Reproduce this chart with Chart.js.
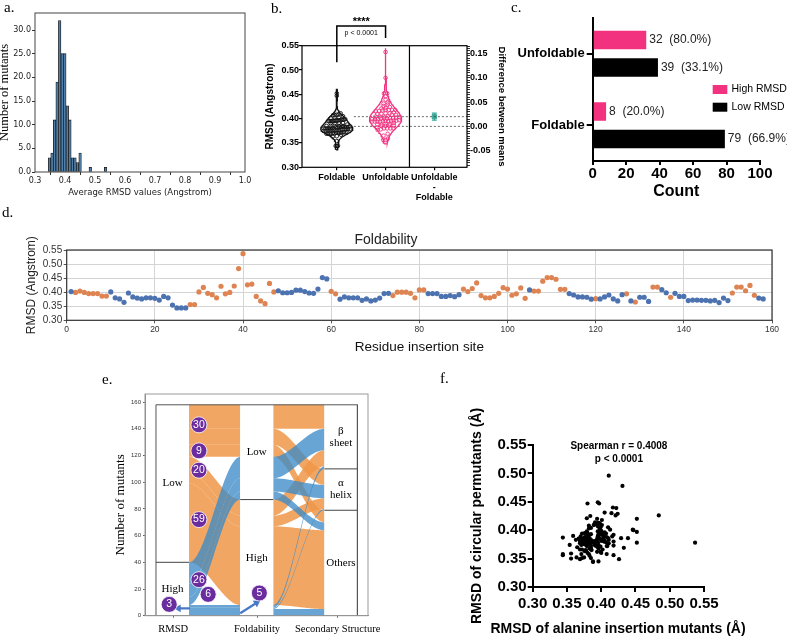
<!DOCTYPE html>
<html>
<head>
<meta charset="utf-8">
<title>RMSD of alanine insertion mutants</title>
<script src="https://cdn.jsdelivr.net/npm/chart.js@4.4.1/dist/chart.umd.min.js"></script>
<style>
  html, body { margin: 0; padding: 0; background: #fff; }
  #figure { position: relative; width: 787px; height: 637px; overflow: hidden; background: #fff; }
  #figure canvas { position: absolute; }
  .panel-label { position: absolute; font-family: "Liberation Serif", "Times New Roman", serif; font-size: 15px; line-height: 15px; color: #000; }
</style>
</head>
<body>
<div id="figure">
  <canvas id="histChart" width="260" height="215" style="left:0px;top:0px"></canvas>
  <canvas id="violinChart" width="280" height="250" style="left:240px;top:0px"></canvas>
  <canvas id="countChart" width="277" height="210" style="left:510px;top:0px"></canvas>
  <canvas id="siteChart" width="787" height="136" style="left:0px;top:228px"></canvas>
  <canvas id="flowChart" width="310" height="252" style="left:100px;top:385px"></canvas>
  <canvas id="corrChart" width="347" height="242" style="left:440px;top:395px"></canvas>
  <div class="panel-label" style="left:4px;top:0px">a.</div>
  <div class="panel-label" style="left:271px;top:1px">b.</div>
  <div class="panel-label" style="left:511px;top:0px">c.</div>
  <div class="panel-label" style="left:2px;top:205px">d.</div>
  <div class="panel-label" style="left:102px;top:372px">e.</div>
  <div class="panel-label" style="left:440px;top:371px">f.</div>
</div>
<script>
// RMSD of each alanine insertion mutant, insertion sites 1..158 (panel d)
const siteRmsd = [
  0.402, 0.399, 0.404, 0.399, 0.395, 0.395, 0.395, 0.386, 0.386, 0.401,
  0.380, 0.376, 0.364, 0.397, 0.383, 0.379, 0.376, 0.380, 0.380, 0.378,
  0.372, 0.385, 0.380, 0.354, 0.344, 0.344, 0.344, 0.356, 0.356, 0.401,
  0.417, 0.396, 0.391, 0.380, 0.421, 0.394, 0.399, 0.422, 0.484, 0.537,
  0.426, 0.429, 0.385, 0.369, 0.359, 0.431, 0.401, 0.405, 0.398, 0.398,
  0.399, 0.407, 0.407, 0.402, 0.397, 0.396, 0.411, 0.452, 0.447, 0.403,
  0.394, 0.375, 0.383, 0.380, 0.380, 0.380, 0.371, 0.376, 0.369, 0.372,
  0.379, 0.395, 0.396, 0.388, 0.400, 0.400, 0.400, 0.396, 0.380, 0.408,
  0.408, 0.395, 0.395, 0.395, 0.385, 0.385, 0.388, 0.384, 0.391, 0.411,
  0.402, 0.413, 0.433, 0.388, 0.380, 0.380, 0.385, 0.396, 0.416, 0.411,
  0.389, 0.394, 0.415, 0.378, 0.408, 0.404, 0.404, 0.439, 0.452, 0.452,
  0.446, 0.410, 0.410, 0.395, 0.390, 0.383, 0.383, 0.382, 0.375, 0.377,
  0.376, 0.383, 0.390, 0.376, 0.369, 0.391, 0.394, 0.369, 0.365, 0.382,
  0.382, 0.367, 0.418, 0.418, 0.409, 0.398, 0.382, 0.396, 0.385, 0.385,
  0.370, 0.372, 0.372, 0.371, 0.371, 0.369, 0.371, 0.363, 0.379, 0.370,
  0.397, 0.418, 0.418, 0.405, 0.424, 0.389, 0.379, 0.376
];

// sites drawn orange (unfoldable) in panel d
const unfoldableSites = [
  2, 3, 4, 5, 6, 7, 8, 9, 28, 29, 30, 31, 32, 33, 34, 35, 36, 37, 38, 39, 40,
  41, 42, 43, 44, 45, 46, 47, 60, 61, 74, 75, 76, 77, 78, 79, 80, 81,
  90, 91, 92, 93, 94, 95, 96, 97, 98, 99, 100, 101, 102, 103, 104,
  106, 107, 108, 109, 110, 111, 112, 113, 120, 127, 129, 133, 134, 137,
  151, 152, 153, 154, 155, 156
];

// RMSD of the circular permutant at the same site (panel f, y values)
const permutantRmsd = [
  0.392, 0.405, 0.383, 0.371, 0.398, 0.412, 0.387, 0.378, 0.365, 0.418,
  0.384, 0.376, 0.352, 0.447, 0.381, 0.372, 0.388, 0.395, 0.360, 0.383,
  0.351, 0.404, 0.380, 0.374, 0.387, 0.358, 0.356, 0.350, 0.359, 0.409,
  0.440, 0.390, 0.375, 0.447, 0.426, 0.420, 0.396, 0.439, 0.426, 0.378,
  0.349, 0.386, 0.369, 0.366, 0.390, 0.478, 0.384, 0.431, 0.412, 0.402,
  0.362, 0.394, 0.379, 0.366, 0.385, 0.345, 0.496, 0.420, 0.400, 0.388,
  0.371, 0.352, 0.368, 0.390, 0.377, 0.382, 0.379, 0.363, 0.381, 0.378,
  0.421, 0.379, 0.393, 0.380, 0.360, 0.399, 0.381, 0.413, 0.386, 0.388,
  0.372, 0.449, 0.407, 0.386, 0.383, 0.373, 0.344, 0.425, 0.373, 0.383,
  0.395, 0.401, 0.369, 0.345, 0.391, 0.375, 0.366, 0.368, 0.389, 0.377,
  0.409, 0.384, 0.430, 0.364, 0.358, 0.392, 0.380, 0.386, 0.397, 0.378,
  0.401, 0.405, 0.386, 0.389, 0.410, 0.379, 0.355, 0.392, 0.380, 0.365,
  0.375, 0.386, 0.381, 0.395, 0.383, 0.414, 0.362, 0.349, 0.370, 0.408,
  0.358, 0.385, 0.380, 0.356, 0.372, 0.392, 0.403, 0.374, 0.393, 0.351,
  0.381, 0.394, 0.366, 0.385, 0.358, 0.377, 0.374, 0.383, 0.387, 0.389,
  0.405, 0.373, 0.392, 0.396, 0.429, 0.379, 0.398, 0.384
];

// panel a histogram
const histBinCenters = [0.3483, 0.3568, 0.3653, 0.3738, 0.3823, 0.3908, 0.3993, 0.4078,
                        0.4163, 0.4248, 0.4333, 0.4418, 0.4503, 0.4843, 0.5353];
const histCounts = [3, 4, 11, 19, 32, 25, 25, 14, 11, 3, 3, 2, 4, 1, 1];

// panel b groups
const violinGroups = ['Foldable', 'Unfoldable', ['Unfoldable', '-', 'Foldable']];
const significanceText = ['****', 'p < 0.0001'];

// panel c
const foldCategories = ['Unfoldable', 'Foldable'];
const highRmsdCounts = [32, 8];
const lowRmsdCounts = [39, 79];

// panel e alluvial paths
const rmsdLevels = ['Low', 'High'];
const foldLevels = ['Low', 'High'];
const structureLevels = ['β sheet', 'α helix', 'Others'];
const pathRmsd = ['Low', 'Low', 'Low', 'High', 'High', 'High', 'Low', 'Low', 'Low', 'High', 'High', 'High'];
const pathFold = ['Low', 'Low', 'Low', 'Low', 'Low', 'Low', 'High', 'High', 'High', 'High', 'High', 'High'];
const pathStructure = ['β sheet', 'α helix', 'Others', 'β sheet', 'α helix', 'Others',
                       'β sheet', 'α helix', 'Others', 'β sheet', 'α helix', 'Others'];
const pathCounts = [18, 12, 9, 16, 10, 6, 12, 8, 59, 2, 1, 5];
const alluvialAxes = ['RMSD', 'Foldability', 'Secondary Structure'];

// panel f
const spearmanText = ['Spearman r = 0.4008', 'p < 0.0001'];

// ---------------------------------------------------------------
const SANS = '"Liberation Sans", Arial, sans-serif';
const DEJAVU = '"DejaVu Sans", sans-serif';
const SERIF = '"Liberation Serif", "Times New Roman", serif';
const PINK = '#f2317f';
const TEAL = '#3aa997';

Chart.defaults.font.family = SANS;
Chart.defaults.color = '#000';
Chart.defaults.animation = false;
Chart.defaults.responsive = false;
Chart.defaults.devicePixelRatio = 1;
Chart.defaults.events = [];
Chart.defaults.plugins.legend.display = false;
Chart.defaults.plugins.tooltip.enabled = false;

const fixW = w => scale => { scale.width = w; };
const fixH = h => scale => { scale.height = h; };
const tickMarks = (len, color, width) => ({ display: true, drawOnChartArea: false, drawTicks: true, tickLength: len, color: color, lineWidth: width || 1 });

function boxFrame(color, width) {
  return {
    id: 'boxFrame',
    afterDraw(chart) {
      const a = chart.chartArea, ctx = chart.ctx;
      ctx.save();
      ctx.strokeStyle = color;
      ctx.lineWidth = width;
      ctx.strokeRect(a.left, a.top, a.right - a.left, a.bottom - a.top);
      ctx.restore();
    }
  };
}

function textLayer(items) {
  return {
    id: 'textLayer',
    afterDraw(chart) {
      const ctx = chart.ctx;
      ctx.save();
      items.forEach(it => {
        const xs = chart.scales[it.xAxis || 'x'], ys = chart.scales[it.yAxis || 'y'];
        const px = xs.getPixelForValue(it.x), py = ys.getPixelForValue(it.y);
        const lines = [].concat(it.text);
        ctx.font = it.font;
        ctx.fillStyle = it.color || '#000';
        ctx.textAlign = 'center';
        ctx.textBaseline = 'middle';
        lines.forEach((t, k) => ctx.fillText(t, px, py + (k - (lines.length - 1) / 2) * (it.lineHeight || 12)));
      });
      ctx.restore();
    }
  };
}

const lineDs = (data, color, width, extra) => Object.assign({
  data, showLine: true, borderColor: color, borderWidth: width, pointRadius: 0, fill: false, tension: 0
}, extra || {});

// ---------- a. histogram ----------
new Chart(document.getElementById('histChart'), {
  type: 'bar',
  data: {
    datasets: [{
      data: histBinCenters.map((x, i) => ({ x, y: histCounts[i] })),
      backgroundColor: '#4f80ac', borderColor: '#1b1b1b', borderWidth: 0.8,
      borderSkipped: false, barPercentage: 1, categoryPercentage: 1
    }]
  },
  options: {
    layout: { padding: { top: 13, right: 15, left: 0, bottom: 0 } },
    scales: {
      x: {
        type: 'linear', offset: false, min: 0.3, max: 1.0, afterFit: fixH(43),
        ticks: { stepSize: 0.1, callback: v => v.toFixed(1), font: { family: DEJAVU, size: 8 }, color: '#222', padding: 1, maxRotation: 0 },
        grid: tickMarks(3, '#333'), border: { display: false },
        title: { display: true, text: 'Average RMSD values (Angstrom)', color: '#222',
                 font: { family: DEJAVU, size: 8.5 }, padding: { top: 0, bottom: 16.9 } }
      },
      y: {
        min: 0, max: 33.6, afterFit: fixW(35),
        ticks: { stepSize: 5, includeBounds: false, autoSkip: false, callback: v => v.toFixed(1), font: { family: DEJAVU, size: 8 }, color: '#222', padding: 1 },
        grid: tickMarks(3, '#333'), border: { display: false },
        title: { display: true, text: 'Number of mutants', font: { family: SERIF, size: 12.5, lineHeight: 0.8 }, padding: { top: 0, bottom: 0 } }
      }
    }
  },
  plugins: [boxFrame('#444', 1)]
});

// ---------- b. violin plot ----------
const unfoldSet = new Set(unfoldableSites);
const foldableRmsd = siteRmsd.filter((v, i) => !unfoldSet.has(i + 1));
const unfoldableRmsd = siteRmsd.filter((v, i) => unfoldSet.has(i + 1));

function stats(vals) {
  const n = vals.length;
  const mean = vals.reduce((a, b) => a + b, 0) / n;
  const variance = vals.reduce((a, b) => a + (b - mean) ** 2, 0) / (n - 1);
  return { n, mean, variance, sd: Math.sqrt(variance) };
}

function violinShape(vals, center, maxHalf) {
  const st = stats(vals);
  const bw = 1.06 * st.sd * Math.pow(st.n, -0.2);
  const density = y => vals.reduce((s, v) => s + Math.exp(-0.5 * ((y - v) / bw) ** 2), 0);
  const lo = Math.min(...vals) - 0.008, hi = Math.max(...vals) + 0.008;
  const ys = [];
  for (let k = 0; k <= 90; k++) ys.push(lo + (hi - lo) * k / 90);
  const dmax = Math.max(...ys.map(density));
  const half = y => density(y) / dmax * maxHalf;
  const left = ys.map(y => ({ x: center - half(y), y }));
  const right = ys.slice().reverse().map(y => ({ x: center + half(y), y }));
  const outline = left.concat(right);
  outline.push(left[0]);
  return { outline, half };
}

// spread points sideways inside the violin
function swarm(vals, center, half) {
  const sorted = vals.slice().sort((a, b) => a - b);
  const pts = [];
  let i = 0;
  while (i < sorted.length) {
    let j = i;
    while (j < sorted.length && sorted[j] - sorted[i] < 0.0045) j++;
    const n = j - i;
    const w = half((sorted[i] + sorted[j - 1]) / 2) * 0.85;
    const step = n > 1 ? Math.min(2 * w / (n - 1), 0.085) : 0;
    for (let k = 0; k < n; k++) pts.push({ x: center + (k - (n - 1) / 2) * step, y: sorted[i + k] });
    i = j;
  }
  return pts;
}

const fStats = stats(foldableRmsd), uStats = stats(unfoldableRmsd);
const meanDiff = uStats.mean - fStats.mean;
const ciHalf = 1.96 * Math.sqrt(fStats.variance / fStats.n + uStats.variance / uStats.n);
const vFold = violinShape(foldableRmsd, 1, 0.33);
const vUnfold = violinShape(unfoldableRmsd, 2, 0.33);

new Chart(document.getElementById('violinChart'), {
  type: 'scatter',
  data: {
    datasets: [
      lineDs(vFold.outline, '#111', 1.3),
      { data: swarm(foldableRmsd, 1, vFold.half), pointRadius: 1.8, borderColor: '#111', borderWidth: 0.9, backgroundColor: 'rgba(0,0,0,0)' },
      lineDs(vUnfold.outline, PINK, 1.3),
      { data: swarm(unfoldableRmsd, 2, vUnfold.half), pointRadius: 1.8, borderColor: PINK, borderWidth: 0.9, backgroundColor: 'rgba(0,0,0,0)' },
      lineDs([{ x: 1.35, y: uStats.mean }, { x: 3.67, y: uStats.mean }], '#444', 0.8, { borderDash: [2, 2] }),
      lineDs([{ x: 1.35, y: fStats.mean }, { x: 3.67, y: fStats.mean }], '#444', 0.8, { borderDash: [2, 2] }),
      lineDs([{ x: 2.49, y: 0.30 }, { x: 2.49, y: 0.55 }], '#000', 1.2),
      lineDs([{ x: 1, y: 0.516 }, { x: 1, y: 0.5905 }, { x: 2, y: 0.5905 }, { x: 2, y: 0.566 }], '#000', 1.5, { clip: false }),
      lineDs([{ x: 3, y: meanDiff - ciHalf }, { x: 3, y: meanDiff + ciHalf }], TEAL, 1.2, { yAxisID: 'y2' }),
      lineDs([{ x: 2.95, y: meanDiff - ciHalf }, { x: 3.05, y: meanDiff - ciHalf }], TEAL, 1.2, { yAxisID: 'y2' }),
      lineDs([{ x: 2.95, y: meanDiff + ciHalf }, { x: 3.05, y: meanDiff + ciHalf }], TEAL, 1.2, { yAxisID: 'y2' }),
      { data: [{ x: 3, y: meanDiff }], yAxisID: 'y2', pointStyle: 'rect', pointRadius: 3, backgroundColor: TEAL, borderColor: TEAL }
    ]
  },
  options: {
    layout: { padding: { top: 45.7, left: 0, right: 0, bottom: 0 } },
    scales: {
      x: {
        min: 0.286, max: 3.67, afterFit: fixH(82.7),
        afterBuildTicks: axis => { axis.ticks = [1, 2, 3].map(v => ({ value: v })); },
        ticks: { callback: v => violinGroups[Math.round(v) - 1], font: { size: 9, weight: 'bold', lineHeight: 1.1 }, padding: 2, maxRotation: 0, autoSkip: false },
        grid: tickMarks(3, '#000', 1.2), border: { display: false }
      },
      y: {
        min: 0.30, max: 0.55, afterFit: fixW(62),
        ticks: { stepSize: 0.05, autoSkip: false, callback: v => v.toFixed(2), font: { size: 9, weight: 'bold' }, padding: 0 },
        grid: tickMarks(3, '#000', 1.2), border: { display: false },
        title: { display: true, text: 'RMSD (Angstrom)', font: { size: 10, weight: 'bold' }, padding: { top: 24, bottom: 0 } }
      },
      y2: {
        position: 'right', min: 0.30 - fStats.mean, max: 0.55 - fStats.mean, afterFit: fixW(53),
        afterBuildTicks: axis => {
          const t = [];
          for (let v = -80; v <= 165; v += 5) t.push({ value: v / 1000 });
          axis.ticks = t;
        },
        ticks: { autoSkip: false, callback: v => (Math.round(v * 1000) % 50 === 0 ? v.toFixed(2) : ''), font: { size: 9, weight: 'bold' }, padding: 0 },
        grid: tickMarks(3, '#000', 0.8), border: { display: false },
        title: { display: true, text: 'Difference between means', font: { size: 9.5, weight: 'bold' }, padding: { top: 12.3, bottom: 0 } }
      }
    }
  },
  plugins: [
    boxFrame('#000', 1.2),
    textLayer([
      { text: significanceText[0], x: 1.5, y: 0.5988, font: 'bold 11px ' + SANS },
      { text: significanceText[1], x: 1.5, y: 0.576, font: '7px ' + SANS }
    ])
  ]
});

// ---------- c. horizontal bars ----------
const groupTotals = [highRmsdCounts.reduce((a, b) => a + b, 0), lowRmsdCounts.reduce((a, b) => a + b, 0)];
new Chart(document.getElementById('countChart'), {
  type: 'bar',
  data: {
    labels: foldCategories,
    datasets: [
      { label: 'High RMSD', data: highRmsdCounts, backgroundColor: PINK },
      { label: 'Low RMSD', data: lowRmsdCounts, backgroundColor: '#000' }
    ]
  },
  options: {
    indexAxis: 'y',
    layout: { padding: { top: 18, right: 27, left: 0, bottom: 0 } },
    datasets: { bar: { categoryPercentage: 0.77, barPercentage: 0.67 } },
    scales: {
      y: {
        afterFit: fixW(82.7),
        ticks: { font: { size: 13, weight: 'bold' }, padding: 2 },
        grid: Object.assign(tickMarks(6, '#000', 2), { offset: false }),
        border: { color: '#000', width: 2 }
      },
      x: {
        min: 0, max: 100, afterFit: fixH(49),
        ticks: { stepSize: 20, font: { size: 15, weight: 'bold' }, padding: 0, maxRotation: 0 },
        grid: tickMarks(4, '#000', 2), border: { color: '#000', width: 2 },
        title: { display: true, text: 'Count', font: { size: 16, weight: 'bold' }, padding: { top: 0, bottom: 8.4 } }
      }
    }
  },
  plugins: [{
    id: 'barValues',
    afterDatasetsDraw(chart) {
      const ctx = chart.ctx;
      ctx.save();
      ctx.font = '12px ' + SANS;
      ctx.fillStyle = '#222';
      ctx.textBaseline = 'middle';
      chart.data.datasets.forEach((ds, di) => {
        chart.getDatasetMeta(di).data.forEach((bar, i) => {
          const v = ds.data[i];
          const pct = (v / groupTotals[di] * 100).toFixed(1);
          ctx.fillText(v + '  (' + pct + '%)', bar.x + 3, bar.y);
        });
      });
      // legend
      ctx.font = '10.5px ' + SANS;
      chart.data.datasets.forEach((ds, di) => {
        const y = 85 + di * 17.7;
        ctx.fillStyle = ds.backgroundColor;
        ctx.fillRect(202.7, y, 14.6, 9);
        ctx.fillStyle = '#000';
        ctx.fillText(ds.label, 221.5, y + 4.5);
      });
      ctx.restore();
    }
  }]
});

// ---------- d. RMSD per insertion site ----------
const sitePoints = siteRmsd.map((v, i) => ({ x: i + 1, y: v }));
new Chart(document.getElementById('siteChart'), {
  type: 'scatter',
  data: {
    datasets: [
      { label: 'Foldable', data: sitePoints.filter(p => !unfoldSet.has(p.x)), backgroundColor: '#4c72b0', pointRadius: 2.6, borderWidth: 0 },
      { label: 'Unfoldable', data: sitePoints.filter(p => unfoldSet.has(p.x)), backgroundColor: '#dd8452', pointRadius: 2.6, borderWidth: 0 }
    ]
  },
  options: {
    layout: { padding: { top: 0, right: 15, left: 0, bottom: 0 } },
    plugins: {
      title: { display: true, text: 'Foldability', color: '#222', font: { size: 14, weight: 'normal' }, padding: { top: 3.6, bottom: 1.6 } }
    },
    scales: {
      x: {
        min: 0, max: 160, afterFit: fixH(43.7),
        ticks: { stepSize: 20, autoSkip: false, font: { size: 8.5 }, color: '#333', padding: 1.7, maxRotation: 0 },
        grid: { color: '#d4d4d4', tickLength: 3, tickColor: '#555' }, border: { display: false },
        title: { display: true, text: 'Residue insertion site', color: '#111', font: { size: 13.5 }, padding: { top: 0, bottom: 8.9 } }
      },
      y: {
        min: 0.30, max: 0.55, afterFit: fixW(66.7),
        ticks: { stepSize: 0.05, autoSkip: false, callback: v => v.toFixed(2), font: { size: 10 }, color: '#333', padding: 1.5 },
        grid: { color: '#d4d4d4', tickLength: 3, tickColor: '#555' }, border: { display: false },
        title: { display: true, text: 'RMSD (Angstrom)', color: '#222', font: { size: 12 }, padding: { top: 24.8, bottom: 0 } }
      }
    }
  },
  plugins: [boxFrame('#333', 1.2)]
});

// ---------- e. alluvial diagram ----------
const COL = { rmsd: [0, 1], fold: [2.55, 3.55], ss: [5.1, 6.1] };
const total = pathCounts.reduce((a, b) => a + b, 0);
const rIdx = i => rmsdLevels.indexOf(pathRmsd[i]);
const fIdx = i => foldLevels.indexOf(pathFold[i]);
const sIdx = i => structureLevels.indexOf(pathStructure[i]);

function stackAt(keyFn) {
  const idx = pathCounts.map((c, i) => i).sort((a, b) => {
    const ka = keyFn(a), kb = keyFn(b);
    for (let j = 0; j < ka.length; j++) if (ka[j] !== kb[j]) return ka[j] - kb[j];
    return 0;
  });
  const pos = [];
  let top = total;
  idx.forEach(i => { pos[i] = [top, top - pathCounts[i]]; top -= pathCounts[i]; });
  return pos;
}
const atRmsd = stackAt(i => [rIdx(i), fIdx(i), sIdx(i)]);
const atFold = stackAt(i => [fIdx(i), rIdx(i), sIdx(i)]);
const atSs = stackAt(i => [sIdx(i), fIdx(i), rIdx(i)]);

function band(x0, x1, a, b) {
  const top = [], bottom = [];
  for (let k = 0; k <= 32; k++) {
    const t = k / 32, s = t * t * (3 - 2 * t), x = x0 + (x1 - x0) * t;
    top.push({ x, y: a[0] + (b[0] - a[0]) * s });
    bottom.push({ x, y: a[1] + (b[1] - a[1]) * s });
  }
  return [top, bottom];
}

const flowSets = [];
pathCounts.map((c, i) => i).sort((a, b) => rIdx(b) - rIdx(a)).forEach(i => {
  const color = pathRmsd[i] === 'High' ? 'rgba(62,140,200,0.78)' : 'rgba(240,150,72,0.85)';
  [[COL.rmsd[1], COL.fold[0], atRmsd[i], atFold[i]], [COL.fold[1], COL.ss[0], atFold[i], atSs[i]]].forEach(([x0, x1, a, b]) => {
    const [top, bottom] = band(x0, x1, a, b);
    flowSets.push({ data: top, fill: '+1', backgroundColor: color, borderColor: 'rgba(0,0,0,0)', borderWidth: 0, pointRadius: 0 });
    flowSets.push({ data: bottom, fill: false, borderColor: 'rgba(0,0,0,0)', borderWidth: 0, pointRadius: 0 });
  });
});

// node boundaries
const sumWhere = pred => pathCounts.reduce((s, c, i) => s + (pred(i) ? c : 0), 0);
const nodeSpans = (levels, idxFn) => {
  let top = total;
  return levels.map((name, k) => {
    const n = sumWhere(i => idxFn(i) === k);
    const span = { name, top, bottom: top - n };
    top -= n;
    return span;
  });
};
const rmsdSpans = nodeSpans(rmsdLevels, rIdx);
const foldSpans = nodeSpans(foldLevels, fIdx);
const ssSpans = nodeSpans(structureLevels, sIdx);

const dividers = [];
[[rmsdSpans, COL.rmsd], [foldSpans, COL.fold], [ssSpans, COL.ss]].forEach(([spans, col]) => {
  spans.slice(0, -1).forEach(sp => dividers.push(lineDs([{ x: col[0], y: sp.bottom }, { x: col[1], y: sp.bottom }], '#444', 1)));
});

// counts per (RMSD, foldability, structured / others) group, labelled at the RMSD side
const bubbles = [];
rmsdLevels.forEach((r, ri) => foldLevels.forEach((f, fi) => [true, false].forEach(structured => {
  const members = pathCounts.map((c, i) => i).filter(i => rIdx(i) === ri && fIdx(i) === fi && (pathStructure[i] !== 'Others') === structured);
  const count = members.reduce((s, i) => s + pathCounts[i], 0);
  const top = Math.max(...members.map(i => atRmsd[i][0])), bottom = Math.min(...members.map(i => atRmsd[i][1]));
  bubbles.push({ count, mid: (top + bottom) / 2 });
})));
const bubbleLayout = [[1.3, 0], [1.3, 0], [1.3, 0], [1.3, 2.5], [1.3, 0], [1.58, 5], [0.4, 2], [3.13, 14.5]];
const bubblePoints = bubbles.map((b, k) => ({ x: bubbleLayout[k][0], y: b.mid + bubbleLayout[k][1] }));

const nodeLabels = [];
[[rmsdSpans, COL.rmsd], [foldSpans, COL.fold], [ssSpans, COL.ss]].forEach(([spans, col]) => {
  spans.forEach(sp => nodeLabels.push({
    text: sp.name.split(' '), x: (col[0] + col[1]) / 2, y: (sp.top + sp.bottom) / 2,
    font: '11px ' + SERIF, lineHeight: 12
  }));
});

new Chart(document.getElementById('flowChart'), {
  type: 'line',
  data: {
    datasets: [
      { data: bubblePoints, showLine: false, pointRadius: 8, backgroundColor: '#6a2c9f', borderColor: '#fff', borderWidth: 0.8 },
      lineDs([{ x: 1.03, y: 5.5 }, { x: 0.68, y: 5.5 }], '#4a78c8', 2.2,
        { pointRadius: [0, 4.5], pointStyle: 'triangle', pointRotation: [0, 270], backgroundColor: '#4a78c8', pointBorderWidth: 0 }),
      lineDs([{ x: 2.55, y: 1.8 }, { x: 3.05, y: 9.7 }], '#4a78c8', 2.2,
        { pointRadius: [0, 4.5], pointStyle: 'triangle', pointRotation: [0, 57], backgroundColor: '#4a78c8', pointBorderWidth: 0 }),
      lineDs([{ x: 0, y: 0 }, { x: 0, y: total }, { x: 6.1, y: total }, { x: 6.1, y: 0 }], '#555', 1),
      ...dividers,
      ...flowSets
    ]
  },
  options: {
    layout: { padding: { top: 9, right: 42, left: 0, bottom: 0 } },
    scales: {
      x: {
        type: 'linear', min: -0.333, max: 6.42, afterFit: fixH(21.3),
        afterBuildTicks: axis => { axis.ticks = [0.52, 3.06, 5.5].map(v => ({ value: v })); },
        ticks: { callback: (v, k) => alluvialAxes[k], font: { family: SERIF, size: 10.5 }, padding: 5, maxRotation: 0, autoSkip: false },
        grid: tickMarks(2, '#666'), border: { color: '#888' }
      },
      y: {
        min: 0, max: 166.1, afterFit: fixW(45),
        afterBuildTicks: axis => { axis.ticks = [0, 20, 40, 60, 80, 100, 120, 140, 160].map(v => ({ value: v })); },
        ticks: { font: { size: 6 }, color: '#333', padding: 2, autoSkip: false },
        grid: tickMarks(2, '#666'), border: { color: '#888' },
        title: { display: true, text: 'Number of mutants', font: { family: SERIF, size: 13 }, padding: { top: 13, bottom: 0 } }
      }
    }
  },
  plugins: [
    boxFrame('#999', 1),
    textLayer(nodeLabels.concat(bubbles.map((b, k) => ({
      text: String(b.count), x: bubblePoints[k].x, y: bubblePoints[k].y, font: '10.5px ' + SANS, color: '#fff'
    }))))
  ]
});

// ---------- f. correlation ----------
new Chart(document.getElementById('corrChart'), {
  type: 'scatter',
  data: {
    datasets: [{ data: siteRmsd.map((x, i) => ({ x, y: permutantRmsd[i] })), backgroundColor: '#000', pointRadius: 2.1, borderWidth: 0 }]
  },
  options: {
    layout: { padding: { top: 50, right: 83, left: 0, bottom: 0 } },
    scales: {
      x: {
        min: 0.30, max: 0.55, afterFit: fixH(50),
        ticks: { stepSize: 0.05, autoSkip: false, callback: v => v.toFixed(2), font: { size: 15, weight: 'bold' }, padding: 3, maxRotation: 0 },
        grid: tickMarks(5, '#000', 2), border: { color: '#000', width: 2 }
      },
      y: {
        min: 0.30, max: 0.55, afterFit: fixW(92.7),
        ticks: { stepSize: 0.05, autoSkip: false, callback: v => v.toFixed(2), font: { size: 15, weight: 'bold' }, padding: 1 },
        grid: tickMarks(5, '#000', 2), border: { color: '#000', width: 2 },
        title: { display: true, text: 'RMSD of circular permutants (Å)', font: { size: 14, weight: 'bold' }, padding: { top: 28.3, bottom: 0 } }
      }
    }
  },
  plugins: [textLayer([
    { text: spearmanText[0], x: 0.4258, y: 0.548, font: 'bold 10px ' + SANS },
    { text: spearmanText[1], x: 0.4258, y: 0.5254, font: 'bold 10px ' + SANS },
    { text: 'RMSD of alanine insertion mutants (Å)', x: 0.4246, y: 0.2266, font: 'bold 14px ' + SANS }
  ])]
});
</script>
</body>
</html>
